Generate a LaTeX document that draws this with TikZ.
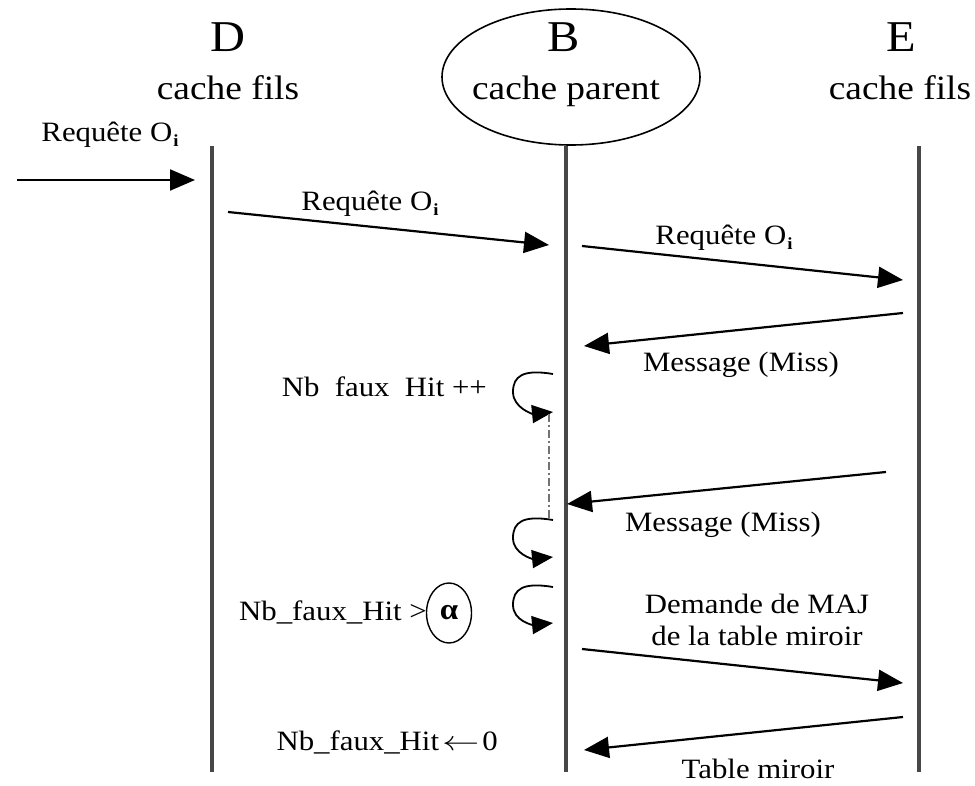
\documentclass[tikz,border=0pt]{standalone}
\usepackage{fontspec}
\setmainfont{Liberation Serif}[FakeStretch=1.1]
\usetikzlibrary{arrows.meta,shapes.geometric}
\newcommand{\Oi}{O\kern1pt{\fontsize{17}{17}\selectfont\bfseries\raisebox{-5pt}{i}}}
\begin{document}
\begin{tikzpicture}[x=1pt,y=-1pt,
  big/.style={font=\fontsize{34}{38}\selectfont, inner sep=0pt, anchor=base},
  huge/.style={font=\fontsize{44}{48}\selectfont, inner sep=0pt, anchor=base},
  lbl/.style={font=\fontsize{28}{32}\selectfont, inner sep=0pt, anchor=base},
  lifeline/.style={draw=black!72, line width=3.6pt},
  msg/.style={draw=black, line width=2.2pt, -{Triangle[length=25pt,width=21pt]}},
  selfloop/.style={draw=black, line width=1.8pt, -{Triangle[length=21pt,width=18pt]}},
  wait/.style={draw=black!55, line width=2.4pt, dash pattern=on 8pt off 3pt on 2pt off 3pt}]
\useasboundingbox (0,0) rectangle (975,786);

% headers
\node[huge] (Dl) at (228,52) {D};
\node[big] (Dc) at (228,100) {cache fils};
\node[huge] (Bl) at (564,52) {B};
\node[big] (Bc) at (566,100) {cache parent};
\node[draw, line width=1.6pt, ellipse, minimum width=258pt, minimum height=136pt, inner sep=0pt] (Bh) at (571,77) {};
\node[huge] (El) at (901,52) {E};
\node[big] (Ec) at (900,100) {cache fils};

% lifelines
\coordinate (Dt) at (212,146); \coordinate (Db) at (212,772);
\coordinate (Bt) at (566,146); \coordinate (Bb) at (566,772);
\coordinate (Et) at (919,146); \coordinate (Eb) at (919,772);
\draw[lifeline] (Dt) -- (Db);
\draw[lifeline] (Bt) -- (Bb);
\draw[lifeline] (Et) -- (Eb);

% message endpoints
\coordinate (in0) at (17,180);  \coordinate (in1) at (195,180);
\coordinate (r1s) at (228,212); \coordinate (r1e) at (549,245);
\coordinate (r2s) at (582,246); \coordinate (r2e) at (903,280);
\coordinate (m1s) at (903,313); \coordinate (m1e) at (584,346);
\coordinate (m2s) at (886,472); \coordinate (m2e) at (567,504);
\coordinate (u1s) at (582,649); \coordinate (u1e) at (903,683);
\coordinate (t1s) at (903,717); \coordinate (t1e) at (584,750);

\draw[msg] (in0) -- (in1);
\draw[msg] (r1s) -- (r1e);
\draw[msg] (r2s) -- (r2e);
\draw[msg] (m1s) -- (m1e);
\draw[msg] (m2s) -- (m2e);
\draw[msg] (u1s) -- (u1e);
\draw[msg] (t1s) -- (t1e);

% message labels
\node[lbl] (l0) at (110,142) {Requête \Oi};
\node[lbl] (l1) at (370,211) {Requête \Oi};
\node[lbl] (l2) at (724,245) {Requête \Oi};
\node[lbl] (l3) at (741,372) {Message (Miss)};
\node[lbl] (l4) at (723,531) {Message (Miss)};
\node[lbl] (l5) at (757,613) {Demande de MAJ};
\node[lbl] (l6) at (757,645) {de la table miroir};
\node[lbl] (l7) at (758,778) {Table miroir};

% self loops
\coordinate (s1s) at (553,374); \coordinate (s1e) at (553,412);
\coordinate (s2s) at (553,520); \coordinate (s2e) at (553,557);
\coordinate (s3s) at (553,587); \coordinate (s3e) at (553,623);
\foreach \a/\b in {s1s/s1e, s2s/s2e, s3s/s3e}{
  \draw[selfloop] (\a) .. controls +(-30,-5) and +(0,-16) .. ++(-40,18)
                  .. controls +(0,16) and +(-20,2) .. (\b);
}
\coordinate (w1) at (549,414); \coordinate (w2) at (549,518);
\draw[wait] (w1) -- (w2);

% counters
\node[lbl, anchor=base east] (n1) at (487,396) {Nb\ \ faux\ \ Hit ++};
\node[lbl, anchor=base east] (n2) at (427,620) {Nb\_faux\_Hit >};
\node[draw, line width=1.4pt, ellipse, minimum width=45pt, minimum height=60pt, inner sep=0pt,
      font=\fontsize{30}{32}\selectfont\bfseries] (al) at (449,613) {α};
\node[lbl, anchor=base east] (n3) at (498,750) {Nb\_faux\_Hit\kern3pt\scalebox{1.5}[1.1]{$\leftarrow$}\kern3pt0};
\end{tikzpicture}
\end{document}
